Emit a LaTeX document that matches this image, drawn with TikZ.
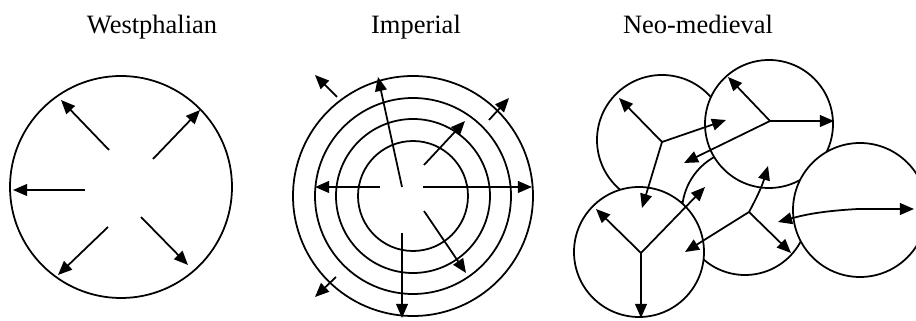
\documentclass[tikz,border=0pt]{standalone}
\usepackage{fontspec}
\setmainfont{Liberation Serif}
\usetikzlibrary{arrows.meta}
\tikzset{
  ring/.style={line width=1.5pt},
  cell/.style={ring, fill=white},
  ray/.style={line width=1.5pt, -{Triangle[length=12pt,width=10pt]}},
  heading/.style={anchor=base, inner sep=0pt, font=\fontsize{22.6}{26}\selectfont}
}
\begin{document}
\begin{tikzpicture}[x=0.03cm, y=-0.03cm]
  \useasboundingbox (0,0) rectangle (916,321);

  %%titles
  \node[heading] (westT) at (152,34) {Westphalian};
  \node[heading] (impT) at (416,34) {Imperial};
  \node[heading] (neoT) at (698,34) {Neo-medieval};

  %%Westphalian
  \coordinate (W) at (121,187);
  \draw[ring] (W) circle[radius=111];
  \foreach \n/\xa/\ya/\xb/\yb in {1/109/150/61/100, 2/153/159/200/110,
      3/85/190/13/190, 4/108/227/58/275, 5/141/217/188/265} {
    \coordinate (ws\n) at (\xa,\ya);
    \coordinate (we\n) at (\xb,\yb);
    \draw[ray] (ws\n) -- (we\n);
  }

  %%Imperial
  \coordinate (I) at (413,196);
  \foreach \r in {120,98,77,55} {
    \draw[ring] (I) circle[radius=\r];
  }
  \foreach \n/\xa/\ya/\xb/\yb in {1/380/187/315/187, 2/423/187/532/187,
      3/402/187/378/77, 4/402/233/402/318,
      5/424/165/465/121, 6/424/211/466/273,
      7/337/97/315/75, 8/489/120/509/98, 9/336/277/315/297} {
    \coordinate (is\n) at (\xa,\ya);
    \coordinate (ie\n) at (\xb,\yb);
    \draw[ray] (is\n) -- (ie\n);
  }

  %%Neo-medieval: circles first, A at the back
  \foreach \c/\xc/\yc/\r in {A/662/140/65, D/745/212/63, B/769/124/64,
      C/639/252/65, E/860/210/67} {
    \coordinate (\c) at (\xc,\yc);
    \draw[cell] (\c) circle[radius=\r];
  }
  %% hubs
  \coordinate (hA) at (662,142);
  \coordinate (hB) at (770,121);
  \coordinate (hC) at (641,253);
  \coordinate (hD) at (749,212);
  \coordinate (hE) at (858,209);
  %% tips
  \coordinate (a1) at (619,98);  \coordinate (a2) at (726,120); \coordinate (a3) at (642,208);
  \coordinate (b1) at (728,77);  \coordinate (b2) at (834,121); \coordinate (b3) at (684,163);
  \coordinate (c1) at (596,209); \coordinate (c2) at (705,187); \coordinate (c3) at (641,318);
  \coordinate (d1) at (768,166); \coordinate (d2) at (685,252); \coordinate (d3) at (791,253);
  \coordinate (e1) at (914,209); \coordinate (e2) at (778,222);

  \foreach \x in {a1,a2,a3} \draw[ray] (hA) -- (\x);
  \foreach \x in {b1,b2,b3} \draw[ray] (hB) -- (\x);
  \foreach \x in {c1,c2,c3} \draw[ray] (hC) -- (\x);
  \foreach \x in {d2,d3} \draw[ray] (hD) -- (\x);
  \draw[ray] (hD) to[bend right=6] (d1);
  \draw[ray] (hE) -- (e1);
  \draw[ray] (hE) to[bend right=6] (e2);
\end{tikzpicture}
\end{document}
